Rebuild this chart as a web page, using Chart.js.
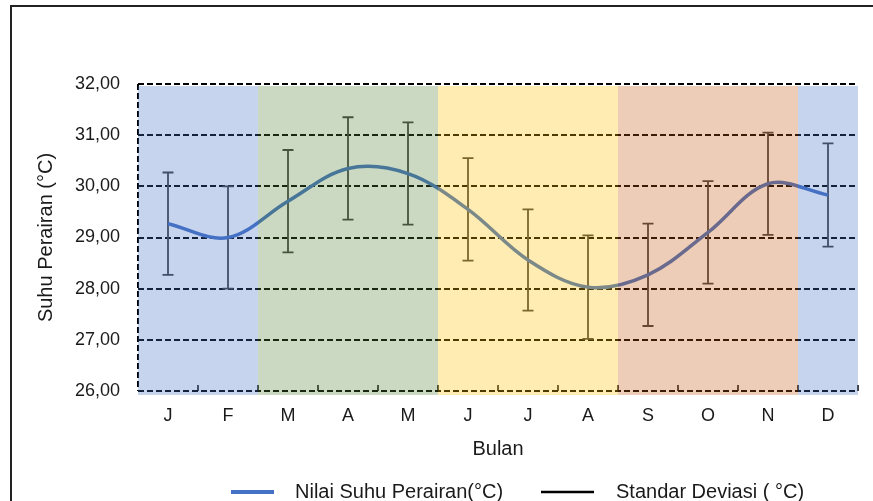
<!DOCTYPE html>
<html>
<head>
<meta charset="utf-8">
<script src="https://cdn.jsdelivr.net/npm/chart.js@4.4.1/dist/chart.umd.min.js"></script>
<style>
  html, body { margin: 0; padding: 0; background: #fff; }
  #wrap { position: relative; width: 873px; height: 501px; overflow: hidden; }
  #frame { position: absolute; left: 10px; top: 5px; width: 900px; height: 600px; border-left: 2px solid #222; border-top: 2px solid #222; pointer-events: none; }
  canvas { position: absolute; left: 0; top: 0; }
</style>
</head>
<body>
<div id="wrap">
  <canvas id="chart" width="873" height="501"></canvas>
  <div id="frame"></div>
</div>
<script>
const months = ['J', 'F', 'M', 'A', 'M', 'J', 'J', 'A', 'S', 'O', 'N', 'D'];
const suhu = [29.27, 29.00, 29.71, 30.35, 30.25, 29.55, 28.56, 28.03, 28.27, 29.10, 30.05, 29.83];
const sd = [1.00, 1.00, 1.00, 1.00, 1.00, 1.00, 0.99, 1.01, 1.00, 1.00, 1.00, 1.01];

// musim: bulan awal / akhir (index) dan warnanya
const bandFrom = [0, 2, 5, 8, 11];
const bandTo = [1, 4, 7, 10, 11];
const bandColors = ['rgba(68,114,196,0.3)', 'rgba(84,130,53,0.3)', 'rgba(255,192,0,0.3)', 'rgba(197,90,17,0.3)', 'rgba(68,114,196,0.3)'];

const seriesName = 'Nilai Suhu Perairan(°C)';
const sdName = 'Standar Deviasi ( °C)';
const textColor = '#1a1a1a';

Chart.defaults.font.family = '"Liberation Sans", Arial, sans-serif';

const seasonPlugin = {
  id: 'season',
  beforeDatasetsDraw(chart) {
    const { ctx, chartArea: a, scales: { x, y } } = chart;
    ctx.save();
    // garis sumbu kiri putus-putus
    ctx.strokeStyle = '#000';
    ctx.lineWidth = 2;
    ctx.setLineDash([6, 3]);
    ctx.beginPath();
    ctx.moveTo(a.left, a.top);
    ctx.lineTo(a.left, a.bottom);
    ctx.stroke();
    ctx.setLineDash([]);
    // tick kecil antar bulan
    ctx.lineWidth = 1.5;
    for (let i = 1; i <= months.length; i++) {
      const px = Math.round(x.getPixelForValue(i - 0.5));
      ctx.beginPath();
      ctx.moveTo(px, a.bottom);
      ctx.lineTo(px, a.bottom - 6);
      ctx.stroke();
    }
    // error bar
    ctx.strokeStyle = '#404040';
    ctx.lineWidth = 1.8;
    suhu.forEach((v, i) => {
      const px = x.getPixelForValue(i);
      const top = y.getPixelForValue(v + sd[i]);
      const bot = y.getPixelForValue(v - sd[i]);
      ctx.beginPath();
      ctx.moveTo(px, top); ctx.lineTo(px, bot);
      ctx.moveTo(px - 5.5, top); ctx.lineTo(px + 5.5, top);
      ctx.moveTo(px - 5.5, bot); ctx.lineTo(px + 5.5, bot);
      ctx.stroke();
    });
    ctx.restore();
  },
  afterDatasetsDraw(chart) {
    const { ctx, chartArea: a, scales: { x } } = chart;
    ctx.save();
    bandFrom.forEach((f, k) => {
      const x1 = x.getPixelForValue(f - 0.5);
      const x2 = x.getPixelForValue(bandTo[k] + 0.5);
      ctx.fillStyle = bandColors[k];
      ctx.fillRect(x1, a.top + 2, x2 - x1, a.bottom - a.top + 2);
    });
    ctx.restore();
  }
};

const legendPlugin = {
  id: 'legendRow',
  afterDraw(chart) {
    const { ctx, chartArea: a } = chart;
    const yMid = a.bottom + 101;
    const x0 = a.left;
    ctx.save();
    ctx.lineCap = 'butt';
    ctx.strokeStyle = '#4472C4';
    ctx.lineWidth = 4;
    ctx.beginPath();
    ctx.moveTo(x0 + 93, yMid); ctx.lineTo(x0 + 136, yMid);
    ctx.stroke();
    ctx.strokeStyle = '#000';
    ctx.lineWidth = 2.5;
    ctx.beginPath();
    ctx.moveTo(x0 + 403, yMid); ctx.lineTo(x0 + 456, yMid);
    ctx.stroke();
    ctx.font = '20px "Liberation Sans", Arial, sans-serif';
    ctx.fillStyle = textColor;
    ctx.textBaseline = 'middle';
    ctx.fillText(seriesName, x0 + 157, yMid);
    ctx.fillText(sdName, x0 + 478, yMid);
    ctx.restore();
  }
};

new Chart(document.getElementById('chart'), {
  type: 'line',
  data: {
    labels: months,
    datasets: [{
      label: seriesName,
      data: suhu,
      borderColor: '#4472C4',
      borderWidth: 3.5,
      pointRadius: 0,
      tension: 0.35,
      fill: false
    }]
  },
  options: {
    responsive: false,
    animation: false,
    devicePixelRatio: 1,
    layout: { padding: { left: 22, top: 84, right: 15, bottom: 38 } },
    plugins: {
      legend: { display: false },
      tooltip: { enabled: false }
    },
    scales: {
      x: {
        offset: true,
        grid: { display: false, offset: true },
        border: { display: false },
        ticks: { color: textColor, font: { size: 18 }, padding: 6, maxRotation: 0, autoSkip: false },
        title: { display: true, text: 'Bulan', color: textColor, font: { size: 20 }, padding: { top: 0, bottom: 2 } },
        afterFit: (s) => { s.height = 72; }
      },
      y: {
        min: 26,
        max: 32,
        grid: { color: '#000', lineWidth: 2, drawTicks: false },
        border: { display: false, dash: [6, 3] },
        ticks: {
          stepSize: 1,
          color: textColor,
          font: { size: 18 },
          padding: 18,
          callback: (v) => v.toFixed(2).replace('.', ',')
        },
        title: { display: true, text: 'Suhu Perairan (°C)', color: textColor, font: { size: 20 }, padding: { top: 12, bottom: 0 } },
        afterFit: (s) => { s.width = 116; }
      }
    }
  },
  plugins: [seasonPlugin, legendPlugin]
});
</script>
</body>
</html>
